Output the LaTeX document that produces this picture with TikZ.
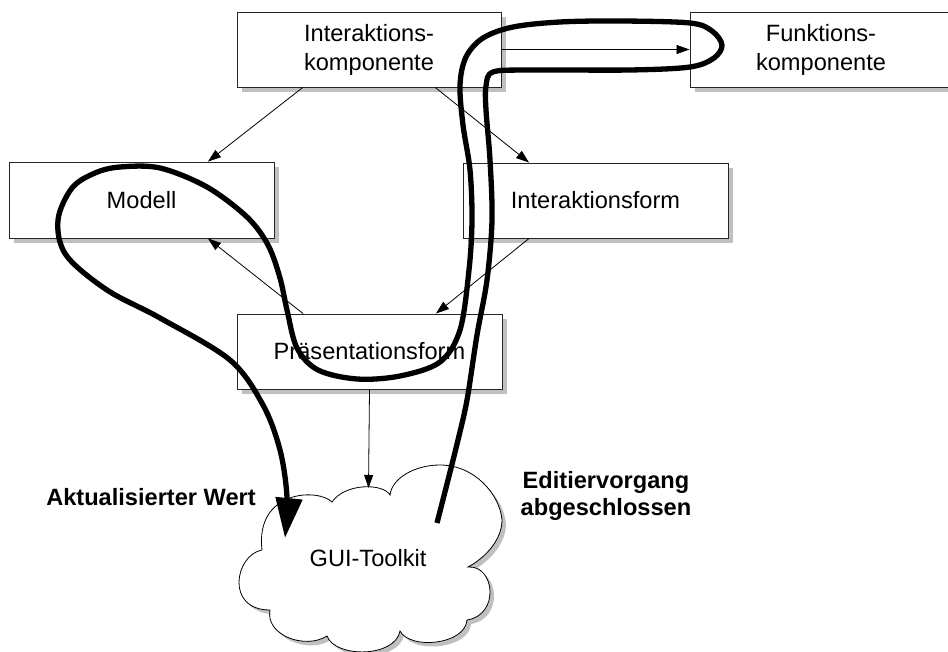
\documentclass[tikz,border=0pt]{standalone}
\usepackage{fontspec}
\setmainfont{Liberation Sans}
\usetikzlibrary{arrows.meta,shadows,calc}

\definecolor{shadowgray}{HTML}{C0C0C0}
\newcommand{\boxfont}{\fontsize{23.6pt}{29pt}\selectfont}
\newcommand{\labelfont}{\fontsize{23.6pt}{27pt}\selectfont\bfseries}

\begin{document}
\begin{tikzpicture}[x=1pt,y=-1pt,
  boxshadow/.style={drop shadow={shadow xshift=5pt,shadow yshift=-5pt,fill=shadowgray,opacity=1}},
  box/.style={draw=black!85,line width=0.9pt,fill=white,minimum height=75pt,
    inner sep=0pt,align=center,font=\boxfont,boxshadow},
  flow/.style={line width=0.8pt,-{Triangle[length=13pt,width=9pt]}},
  path/.style={line width=5.3pt},
  label/.style={font=\labelfont,align=center}
]
\useasboundingbox (0,0) rectangle (948,652);

% components
\node[box,minimum width=264pt] (ik) at (369,49.5) {Interaktions-\\komponente};
\node[box,minimum width=262pt] (fk) at (821,49.5) {Funktions-\\komponente};
\node[box,minimum width=265pt,minimum height=76pt] (mod) at (141.5,200) {Modell};
\node[box,minimum width=265pt] (if) at (595.5,200.5) {Interaktionsform};
\node[box,minimum width=265pt] (pf) at (369.5,351.5) {Präsentationsform};

% toolkit cloud
\filldraw[fill=white,draw=black,line width=0.8pt,
  drop shadow={shadow xshift=4pt,shadow yshift=-4pt,fill=shadowgray,opacity=1}]
  (262,550) .. controls (235,555) and (225,610) .. (270,610)
  .. controls (265,635) and (305,650) .. (327,636)
  .. controls (335,658) and (395,658) .. (400,631)
  .. controls (410,650) and (465,645) .. (467,620)
  .. controls (500,615) and (495,565) .. (468,567)
  .. controls (485,558) and (502,540) .. (502,520)
  .. controls (500,495) and (475,465) .. (440,465)
  .. controls (415,465) and (392,478) .. (390,495)
  .. controls (383,483) and (345,483) .. (332,502)
  .. controls (318,488) and (255,490) .. (262,550) -- cycle;
\node[font=\boxfont] (gui) at (368,558.5) {GUI-Toolkit};
\coordinate (cloudtop) at (368.5,488);

% data flow between components
\draw[flow] (ik.east) -- (fk.west);
\draw[flow] ($(ik.south west)!.25!(ik.south east)$) -- ($(mod.north west)!.75!(mod.north east)$);
\draw[flow] ($(ik.south west)!.75!(ik.south east)$) -- ($(if.north west)!.25!(if.north east)$);
\draw[flow] ($(pf.north west)!.25!(pf.north east)$) -- ($(mod.south west)!.75!(mod.south east)$);
\draw[flow] ($(if.south west)!.25!(if.south east)$) -- ($(pf.north west)!.75!(pf.north east)$);
\draw[flow] (pf.south) -- (cloudtop);

% labels
\node[label] (upd) at (151,497) {Aktualisierter Wert};
\node[label] (edit) at (606,496) {Editiervorgang\\abgeschlossen};

% event path through the components
\coordinate (editStart) at (437,523);
\coordinate (updTip) at (285,538);
\draw[path,-{Triangle[length=40pt,width=26pt]}]
  plot[smooth,tension=0.55] coordinates {
  (editStart) (448,480) (458,440) (467,400) (477,335) (487,280) (492,220)
  (490,160) (486,110) (486,86) (493,72) (530,70) (630,70) (690,67)
  (714,58) (722,45) (712,31) (690,23) (620,21) (560,22) (513,27)
  (483,38) (466,57) (460,85) (463,125) (470,170) (472,220) (469,270)
  (460,330) (440,362) (400,376) (357,379) (318,370) (297,348) (287,310)
  (280,278) (268,245) (247,217) (207,187) (160,168) (120,167) (95,173)
  (72,188) (58,220) (66,255) (107,290) (160,318) (230,360) (263,405)
  (280,450) (287,497) (updTip)};
\end{tikzpicture}
\end{document}
